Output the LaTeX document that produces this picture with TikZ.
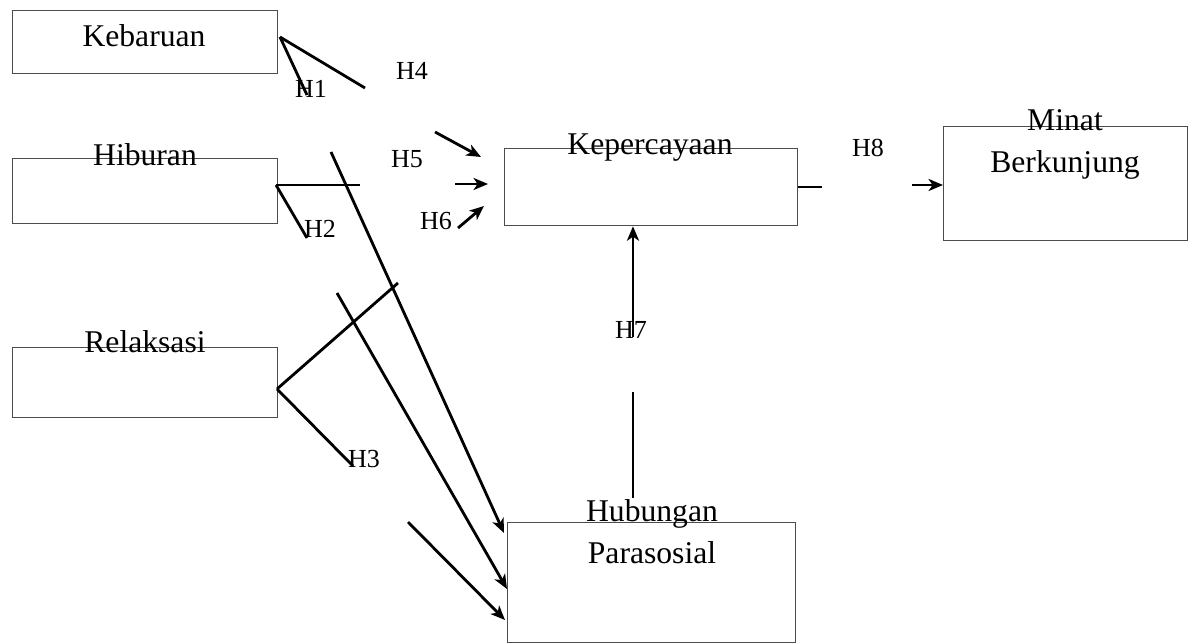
\documentclass[tikz,border=0pt]{standalone}
\usepackage{fontspec}
\setmainfont{Liberation Serif}
\usetikzlibrary{arrows.meta}

\begin{document}
\begin{tikzpicture}[
    x=0.025cm, y=-0.025cm,
    box/.style={rectangle, draw=black!70, line width=0.9pt, anchor=north west, inner sep=0pt},
    varname/.style={anchor=base, inner sep=0pt, font=\fontsize{22.5}{27}\selectfont},
    hyp/.style={anchor=base, inner sep=0pt, font=\fontsize{18.5}{22}\selectfont},
    link/.style={line width=2pt},
    arrow/.style={link, -{Stealth[length=0.36cm, width=0.3cm, inset=0.1cm]}}
]
\useasboundingbox (0,0) rectangle (1192,643);

% Boxes
\node[box, minimum width=6.625cm, minimum height=1.575cm] (kebaruan) at (12,10) {};
\node[box, minimum width=6.625cm, minimum height=1.625cm] (hiburan) at (12,158) {};
\node[box, minimum width=6.625cm, minimum height=1.75cm] (relaksasi) at (12,347) {};
\node[box, minimum width=7.325cm, minimum height=1.925cm] (kepercayaan) at (504,148) {};
\node[box, minimum width=6.1cm, minimum height=2.85cm] (minat) at (943,126) {};
\node[box, minimum width=7.2cm, minimum height=3.0cm] (hubungan) at (507,522) {};

% Box texts
\node[varname] (kebaruanText) at (144,47) {Kebaruan};
\node[varname] (hiburanText) at (145,166) {Hiburan};
\node[varname] (relaksasiText) at (145,352) {Relaksasi};
\node[varname] (kepercayaanText) at (650,155) {Kepercayaan};
\node[varname] (minatText) at (1065,131) {Minat};
\node[varname] (berkunjungText) at (1065,173) {Berkunjung};
\node[varname] (hubunganText) at (652,521) {Hubungan};
\node[varname] (parasosialText) at (652,563) {Parasosial};

% Hypothesis labels
\node[hyp] (h1) at (311,98) {H1};
\node[hyp] (h2) at (320,238) {H2};
\node[hyp] (h3) at (364,467) {H3};
\node[hyp] (h4) at (412,80) {H4};
\node[hyp] (h5) at (407,168) {H5};
\node[hyp] (h6) at (436,230) {H6};
\node[hyp] (h7) at (631,338) {H7};
\node[hyp] (h8) at (868,157) {H8};

% Line ends
\coordinate (kbOut) at (280,37);
\coordinate (hbOut) at (276,185);
\coordinate (rlOut) at (277,389);
\coordinate (h1End) at (307,95);
\coordinate (h4End) at (365,88);
\coordinate (h4Start) at (435,132);
\coordinate (h4Tip) at (481,157);
\coordinate (h5End) at (360,185);
\coordinate (h5Start) at (455,184);
\coordinate (h5Tip) at (488,184);
\coordinate (h6Start) at (458,228);
\coordinate (h6Tip) at (484,206);
\coordinate (h2End) at (307,238);
\coordinate (longStart) at (331,152);
\coordinate (rlUp) at (398,283);
\coordinate (h3End) at (353,466);
\coordinate (midStart) at (337,293);
\coordinate (lowStart) at (408,522);
\coordinate (h7Start) at (633,337);
\coordinate (h7Low) at (633,392);
\coordinate (h7Bottom) at (633,498);
\coordinate (h8End) at (822,187);
\coordinate (h8Start) at (912,185);

% Connections
\draw[link] (kbOut) -- (h1End);
\draw[link] (kbOut) -- (h4End);
\draw[arrow] (h4Start) -- (h4Tip);
\draw[link] (hbOut) -- (h5End);
\draw[link] (hbOut) -- (h2End);
\draw[arrow] (h5Start) -- (h5Tip);
\draw[arrow] (h6Start) -- (h6Tip);
\draw[arrow] (longStart) -- (504,533);
\draw[link] (rlOut) -- (rlUp);
\draw[link] (rlOut) -- (h3End);
\draw[arrow] (midStart) -- (hubungan.west |- 0,589);
\draw[arrow] (lowStart) -- (505,620);
\draw[arrow] (h7Start) -- (kepercayaan.south -| h7Start);
\draw[link] (h7Low) -- (h7Bottom);
\draw[link] (kepercayaan.east |- h8End) -- (h8End);
\draw[arrow] (h8Start) -- (minat.west |- h8Start);

\end{tikzpicture}
\end{document}
